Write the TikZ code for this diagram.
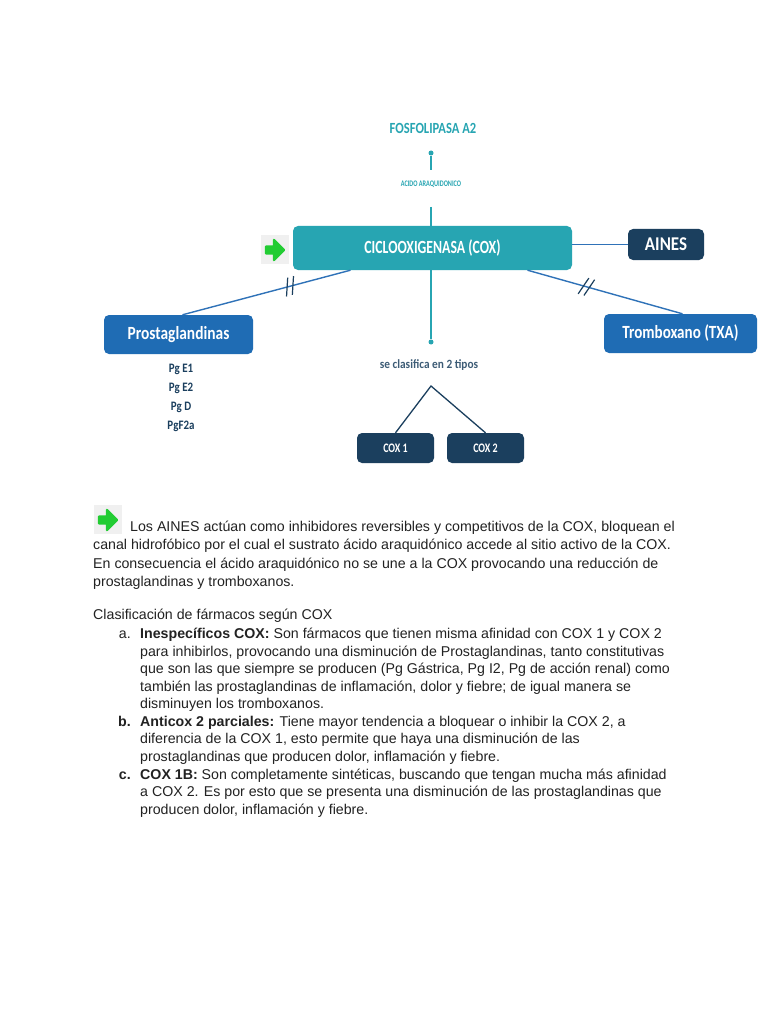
\documentclass[tikz,border=0pt]{standalone}
\usepackage{fontspec}
\usepackage{graphicx}
\setmainfont{Liberation Sans}
\newfontfamily\dfont{Carlito}
\usetikzlibrary{decorations.markings}
\definecolor{teal}{HTML}{27A5B2}
\definecolor{navy}{HTML}{1B3F5E}
\definecolor{pblue}{HTML}{1F6CB4}
\definecolor{lblue}{HTML}{2F72B8}
\definecolor{garrow}{HTML}{22CC33}
\definecolor{txt}{HTML}{222222}
\newcommand{\cnd}[2]{\scalebox{#1}[1]{#2}}
\tikzset{
  box/.style={rounded corners=5pt, inner sep=0pt, text=white, font=\dfont\bfseries},
  pgtxt/.style={font=\dfont\bfseries\fontsize{12.9}{14}\selectfont, text=navy, inner sep=0pt},
  para/.style={anchor=base west, inner sep=0pt, text=txt, font=\fontsize{14.2}{16}\selectfont},
  lbl/.style={anchor=base east, inner sep=0pt, text=txt, font=\fontsize{14.2}{16}\selectfont},
  ticks/.style={decoration={markings, mark=at position #1 with {\draw[navy, line width=1.2pt] (-6pt,-9pt) -- (0pt,9pt) (0pt,-9pt) -- (6pt,9pt);}}, postaction=decorate},
  dotend/.style={circle, fill=teal, inner sep=0pt, minimum size=5pt}
}
\newcommand{\greenarrow}[2]{%
  \fill[gray!12] (#1-4,#2-15) rectangle (#1+24,#2+14);
  \fill[garrow, draw=garrow, line join=round, line width=2.4pt]
    (#1+1,#2-3.5) -- (#1+9,#2-3.5) -- (#1+9,#2-10) -- (#1+19,#2) -- (#1+9,#2+10) -- (#1+9,#2+3.5) -- (#1+1,#2+3.5) -- cycle;
}
\begin{document}
\begin{tikzpicture}[x=1pt,y=-1pt]
\path[use as bounding box, fill=white] (0,0) rectangle (768,1024);

% top
\node[font=\dfont\bfseries\fontsize{15.5}{17}\selectfont, text=teal, inner sep=0pt] (fosfo) at (433,128) {\cnd{0.81}{FOSFOLIPASA A2}};
\node[dotend] (dot1) at (431,153) {};
\coordinate (c1b) at (431,170);
\draw[teal, line width=1.3pt] (dot1) -- (c1b);
\node[font=\dfont\bfseries\fontsize{8.5}{9}\selectfont, text=teal, inner sep=0pt] (acido) at (431,184) {\cnd{0.73}{ACIDO ARAQUIDONICO}};
\coordinate (c2) at (431,207);

% main boxes
\node[box, fill=teal, minimum width=279pt, minimum height=44pt, font=\dfont\bfseries\fontsize{18.6}{20}\selectfont] (cox) at (432.5,248) {\cnd{0.74}{CICLOOXIGENASA (COX)}};
\node[box, fill=navy, minimum width=76pt, minimum height=31pt, font=\dfont\bfseries\fontsize{19.5}{21}\selectfont] (aines) at (666,244.5) {\cnd{0.87}{AINES}};
\node[box, fill=pblue, minimum width=149pt, minimum height=39pt, font=\dfont\bfseries\fontsize{18.6}{20}\selectfont] (prost) at (178.5,334.5) {\cnd{0.83}{Prostaglandinas}};
\node[box, fill=pblue, minimum width=153pt, minimum height=39pt, font=\dfont\bfseries\fontsize{18.6}{20}\selectfont] (trom) at (680.5,333.5) {\cnd{0.81}{Tromboxano (TXA)}};
\node[box, fill=navy, minimum width=77pt, minimum height=30pt, font=\dfont\bfseries\fontsize{13}{14}\selectfont] (cox1) at (395.5,448) {\cnd{0.77}{COX 1}};
\node[box, fill=navy, minimum width=77pt, minimum height=30pt, font=\dfont\bfseries\fontsize{13}{14}\selectfont] (cox2) at (485.5,448) {\cnd{0.77}{COX 2}};

\draw[teal, line width=1.3pt] (c2) -- (c2 |- cox.north);

% green arrow near COX
\greenarrow{265}{250}

% connectors
\draw[lblue, line width=1.4pt] (cox.east |- aines.west) -- (aines.west);
\draw[lblue, line width=1.4pt, ticks=0.36] ([xshift=-82pt]cox.south) -- ([xshift=4pt]prost.north);
\draw[lblue, line width=1.4pt, ticks=0.38] ([xshift=95pt]cox.south) -- ([xshift=2pt]trom.north);
\node[dotend] (dot2) at (431,342) {};
\draw[teal, line width=1.3pt] (dot2 |- cox.south) -- (dot2);
\node[font=\dfont\bfseries\fontsize{12.6}{14}\selectfont, text=navy!85, inner sep=0pt] (clas) at (429,365) {\cnd{0.9}{se clasifica en 2 tipos}};
\coordinate (apex) at (431,386);
\draw[navy, line width=1.3pt] (cox1.north) -- (apex) -- (cox2.north);

% Pg list
\node[pgtxt] (pg1) at (181,369) {\cnd{0.85}{Pg E1}};
\node[pgtxt] (pg2) at (181,388) {\cnd{0.85}{Pg E2}};
\node[pgtxt] (pg3) at (181,407) {\cnd{0.85}{Pg D}};
\node[pgtxt] (pg4) at (181,426) {\cnd{0.85}{PgF2a}};

% paragraph
\greenarrow{98}{520}
\node[para] (p1) at (130,531) {Los AINES actúan como inhibidores reversibles y competitivos de la COX, bloquean el};
\node[para] (p2) at (93,549.5) {canal hidrofóbico por el cual el sustrato ácido araquidónico accede al sitio activo de la COX.};
\node[para] (p3) at (93,568) {En consecuencia el ácido araquidónico no se une a la COX provocando una reducción de};
\node[para] (p4) at (93,586.5) {prostaglandinas y tromboxanos.};

\node[para] (cl) at (93,619) {Clasificación de fármacos según COX};

\node[lbl] (la) at (131,638) {a.};
\node[para] (a1) at (140,638) {\textbf{Inespecíficos COX:} Son fármacos que tienen misma afinidad con COX 1 y COX 2};
\node[para] (a2) at (140,656) {para inhibirlos, provocando una disminución de Prostaglandinas, tanto constitutivas};
\node[para] (a3) at (140,673) {que son las que siempre se producen (Pg Gástrica, Pg I2, Pg de acción renal) como};
\node[para] (a4) at (140,691) {también las prostaglandinas de inflamación, dolor y fiebre; de igual manera se};
\node[para] (a5) at (140,708) {disminuyen los tromboxanos.};

\node[lbl] (lb) at (131,726) {\textbf{b.}};
\node[para] (b1) at (140,726) {\textbf{Anticox 2 parciales:} Tiene mayor tendencia a bloquear o inhibir la COX 2, a};
\node[para] (b2) at (140,743) {diferencia de la COX 1, esto permite que haya una disminución de las};
\node[para] (b3) at (140,761) {prostaglandinas que producen dolor, inflamación y fiebre.};

\node[lbl] (lc) at (131,779) {\textbf{c.}};
\node[para] (c1) at (140,779) {\textbf{COX 1B:} Son completamente sintéticas, buscando que tengan mucha más afinidad};
\node[para] (c2l) at (140,796) {a COX 2. Es por esto que se presenta una disminución de las prostaglandinas que};
\node[para] (c3) at (140,814) {producen dolor, inflamación y fiebre.};
\end{tikzpicture}
\end{document}
